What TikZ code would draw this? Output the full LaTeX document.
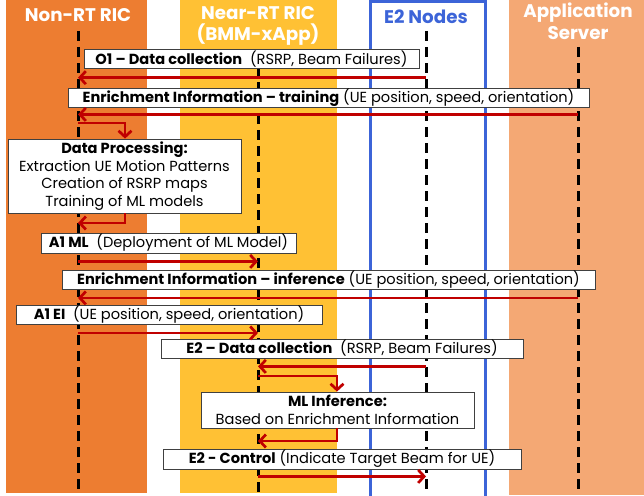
\documentclass[tikz,border=0pt]{standalone}
\usepackage{fontspec}
\setmainfont{Poppins}
\usepackage{tikz}
\usetikzlibrary{arrows.meta}

\definecolor{nonrtcol}{HTML}{ED7D31}
\definecolor{nearcol}{HTML}{FFC134}
\definecolor{appcol}{HTML}{F4A874}
\definecolor{e2col}{HTML}{3C64D8}
\definecolor{msgcol}{HTML}{C00000}

\begin{document}
\begin{tikzpicture}[x=1pt,y=-1pt,
                    msg/.style={->,>={Straight Barb[length=6pt,width=13pt]},
                                draw=msgcol,line width=2.7pt},
                    lifeline/.style={draw=black,line width=3pt,
                                     dash pattern=on 10pt off 6pt},
                    head/.style={font=\fontsize{18.3}{21.5}\selectfont\bfseries,
                                 text=white,align=center}]
  \tikzstyle{box}=[draw=black!75,line width=0.8pt,fill=white,inner sep=0pt,
                   font=\fontsize{14.6}{17.7}\selectfont,align=center]

  \useasboundingbox (0,0) rectangle (644,495);

  % columns
  \fill[nonrtcol] (6,0) rectangle (147,493);
  \fill[nearcol] (180,0) rectangle (337,493);
  \fill[appcol] (509,0) rectangle (644,495);
  \draw[e2col,line width=3pt] (370.5,1.5) rectangle (485,497);

  \node[head] (hnrt) at (78,15) {Non-RT RIC};
  \node[head] (hnear) at (258,26) {Near-RT RIC\\(BMM-xApp)};
  \node[head,text=e2col] (he2) at (426,17) {E2 Nodes};
  \node[head] (happ) at (578,21) {Application\\Server};

  % lifelines
  \coordinate (nrt) at (78,31);
  \coordinate (near) at (258,50);
  \coordinate (e2) at (426,31);
  \coordinate (app) at (578,47);
  \coordinate (bottom) at (0,493);
  \draw[lifeline] (nrt) -- (nrt |- bottom);
  \draw[lifeline] (near) -- (near |- bottom);
  \draw[lifeline] (e2) -- (e2 |- bottom);
  \draw[lifeline] (app) -- (app |- bottom);

  % messages
  \node[box,minimum width=335pt,minimum height=18.5pt] (o1) at (251.5,59)
    {\textbf{O1 – Data collection}~ (RSRP, Beam Failures)};
  \node[box,minimum width=521pt,minimum height=19pt] (eit) at (328.5,97.5)
    {\textbf{Enrichment Information – training} (UE position, speed, orientation)};
  \node[box,minimum width=233pt,minimum height=74pt] (dp) at (124.5,176)
    {\textbf{Data Processing:}\\Extraction UE Motion Patterns\\
     Creation of RSRP maps\\Training of ML models};
  \node[box,minimum width=255pt,minimum height=20pt] (a1ml) at (168.5,243)
    {\textbf{A1 ML}~ (Deployment of ML Model)};
  \node[box,minimum width=533pt,minimum height=19pt] (eii) at (328.5,280)
    {\textbf{Enrichment Information – inference} (UE position, speed, orientation)};
  \node[box,minimum width=306pt,minimum height=19pt] (a1ei) at (169,315)
    {\textbf{A1 EI}~ (UE position, speed, orientation)};
  \node[box,minimum width=362pt,minimum height=19pt] (e2dc) at (342,348.5)
    {\textbf{E2 – Data collection}~ (RSRP, Beam Failures)};
  \node[box,minimum width=273pt,minimum height=36pt] (mli) at (337.5,410)
    {\textbf{ML Inference:}\\Based on Enrichment Information};
  \node[box,minimum width=358pt,minimum height=20pt] (e2c) at (342,459)
    {\textbf{E2 - Control} (Indicate Target Beam for UE)};

  \coordinate (r1) at ([yshift=-9pt]o1.south);
  \coordinate (r2) at ([yshift=-7pt]eit.south);
  \coordinate (r3) at ([yshift=-8pt]a1ml.south);
  \coordinate (r4) at ([yshift=-8pt]eii.south);
  \coordinate (r5) at ([yshift=-8pt]a1ei.south);
  \coordinate (r6) at ([yshift=-8pt]e2dc.south);
  \coordinate (r7) at ([yshift=-7pt]e2c.south);

  \draw[msg] (e2 |- r1) -- (nrt |- r1);
  \draw[msg] (app |- r2) -- (nrt |- r2);
  \draw[msg] (nrt |- r3) -- (near |- r3);
  \draw[msg] (app |- r4) -- (nrt |- r4);
  \draw[msg] (nrt |- r5) -- (near |- r5);
  \draw[msg] (e2 |- r6) -- (near |- r6);
  \draw[msg] (near |- r7) -- (e2 |- r7);

  % self loops
  \coordinate (dpin) at (125,123);
  \coordinate (dpout) at (125,223);
  \draw[msg] (nrt |- dpin) -- (dpin) -- (dpin |- dp.north);
  \draw[msg] (dpout |- dp.south) -- (dpout) -- (nrt |- dpout);
  \coordinate (mlin) at (337,376);
  \coordinate (mlout) at (337,441);
  \draw[msg] (near |- mlin) -- (mlin) -- (mlin |- mli.north);
  \draw[msg] (mlout |- mli.south) -- (mlout) -- (near |- mlout);

\end{tikzpicture}
\end{document}
